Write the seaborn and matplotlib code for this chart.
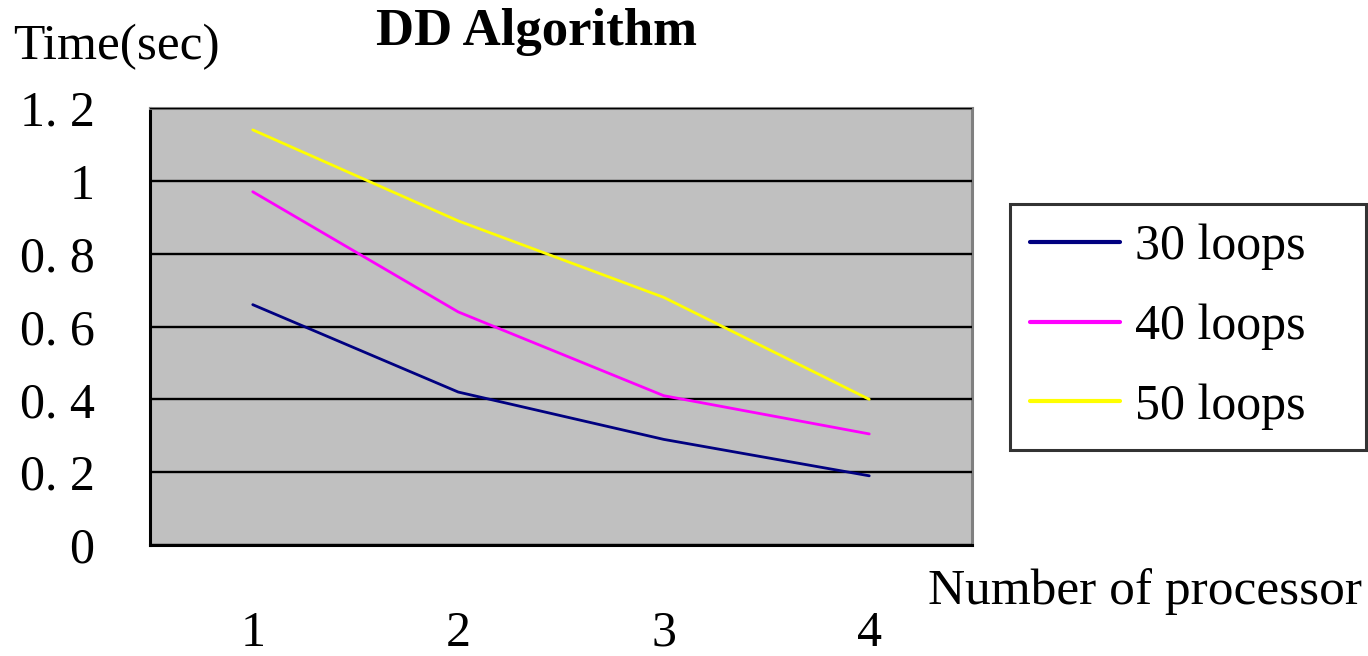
import matplotlib
matplotlib.use("Agg")
import matplotlib.pyplot as plt
import seaborn as sns
import pandas as pd

processors = [1, 2, 3, 4]
loops_30 = [0.66, 0.42, 0.29, 0.19]
loops_40 = [0.97, 0.64, 0.41, 0.305]
loops_50 = [1.14, 0.89, 0.68, 0.40]
series_names = ["30 loops", "40 loops", "50 loops"]
y_ticks = [0, 0.2, 0.4, 0.6, 0.8, 1.0, 1.2]
y_tick_labels = ["0", "0. 2", "0. 4", "0. 6", "0. 8", "1", "1. 2"]
x_tick_labels = ["1", "2", "3", "4"]

rows = []
for name, vals in zip(series_names, [loops_30, loops_40, loops_50]):
    for p, v in zip(processors, vals):
        rows.append({"proc": p, "time": v, "series": name})
df = pd.DataFrame(rows)

sns.set_style("white")
plt.rcParams["font.family"] = ["Liberation Serif", "DejaVu Serif"]
plt.rcParams["text.color"] = "black"
plt.rcParams["axes.labelcolor"] = "black"
plt.rcParams["xtick.color"] = "black"
plt.rcParams["ytick.color"] = "black"

fig = plt.figure(figsize=(13.68, 6.56), dpi=100)
ax = fig.add_axes([150 / 1368, 1 - 545 / 656, 822 / 1368, 437 / 656])
ax.set_facecolor("#C0C0C0")

palette = {"30 loops": "#000080", "40 loops": "#FF00FF", "50 loops": "#FFFF00"}
sns.lineplot(data=df, x="proc", y="time", hue="series", palette=palette,
             linewidth=2.0, ax=ax, legend=True)

ax.set_xlim(0.5, 4.5)
ax.set_ylim(0, 1.2)
ax.set_yticks(y_ticks)
ax.set_yticklabels(y_tick_labels, fontsize=36)
ax.set_xticks(processors)
ax.set_xticklabels(x_tick_labels, fontsize=36)
ax.set_xticks([1.5, 2.5, 3.5, 4.5], minor=True)
ax.tick_params(axis="x", which="major", length=0, pad=47)
ax.tick_params(axis="x", which="minor", direction="in", length=13, width=2, color="black")
ax.tick_params(axis="y", which="major", direction="in", length=14, width=2, color="black", pad=40)

ax.yaxis.grid(True, color="black", linewidth=1.7)
ax.xaxis.grid(False)
ax.set_axisbelow(False)
for line in ax.get_lines():
    line.set_zorder(3)

for side in ["left", "bottom"]:
    ax.spines[side].set_color("black")
    ax.spines[side].set_linewidth(2.2)
for side in ["top", "right"]:
    ax.spines[side].set_color("#808080")
    ax.spines[side].set_linewidth(2.2)
    ax.spines[side].set_visible(True)

ax.set_xlabel("Number of processor", fontsize=37)
ax.xaxis.set_label_coords((1362 - 150) / 822, (545 - 592) / 437)
ax.xaxis.label.set_ha("right")
ax.xaxis.label.set_va("center")
ax.set_ylabel("Time(sec)", fontsize=37, rotation=0)
ax.yaxis.set_label_coords((13 - 150) / 822, (545 - 47) / 437)
ax.yaxis.label.set_ha("left")
ax.yaxis.label.set_va("center")

fig.text(537 / 1368, 1 - 32 / 656, "DD Algorithm", fontsize=38, fontweight="bold",
         ha="center", va="center")

x0 = (1010 - 150) / 822
w = (1366 - 1010) / 822
top = (545 - 204) / 437
h = (449 - 204) / 437
leg = ax.legend(loc="upper left", bbox_to_anchor=(x0, top - h, w, h), mode="expand",
                fontsize=36, frameon=True, fancybox=False, edgecolor="black",
                handlelength=1.8, handletextpad=0.3, labelspacing=0.66,
                borderpad=0.4, borderaxespad=0, title=None)
leg.get_frame().set_linewidth(2.2)
for lh in leg.get_lines():
    lh.set_linewidth(3)

fig.savefig("out.png", dpi=100)
